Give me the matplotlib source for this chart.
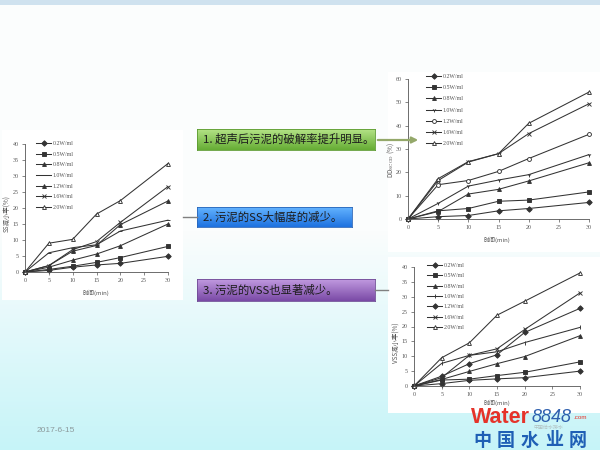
import numpy as np
import matplotlib
matplotlib.use("Agg")
import matplotlib.pyplot as plt
from matplotlib.lines import Line2D
from matplotlib.patches import Rectangle, FancyArrowPatch
from matplotlib.colors import to_rgb

plt.rcParams['font.family'] = ['Noto Sans CJK SC', 'DejaVu Sans']
plt.rcParams['mathtext.fontset'] = 'dejavuserif'

# ---------------- data ----------------
time_min = [0, 5, 10, 15, 20, 30]
power_levels = ['0.2W/ml', '0.5W/ml', '0.8W/ml', '1.0W/ml', '1.2W/ml', '1.6W/ml', '2.0W/ml']

# SS reduction rate (%)
ss_reduction = [
    [0, 0.5, 1.5, 2.2, 2.7, 4.9],
    [0, 0.8, 1.8, 3.0, 4.5, 8.0],
    [0, 1.5, 3.7, 5.6, 8.2, 15.0],
    [0, 6.0, 7.6, 8.5, 12.8, 16.2],
    [0, 2.0, 6.5, 8.3, 14.8, 22.2],
    [0, 2.0, 7.0, 9.5, 15.5, 26.7],
    [0, 9.0, 10.2, 18.1, 22.3, 33.9],
]

# SCOD disintegration degree (%)
dd_scod = [
    [0, 1.0, 1.5, 3.5, 4.5, 7.1],
    [0, 3.5, 4.5, 7.6, 8.1, 11.6],
    [0, 3.2, 10.7, 12.7, 16.3, 24.1],
    [0, 6.7, 14.1, 16.7, 19.0, 27.6],
    [0, 14.7, 16.5, 20.4, 25.9, 36.3],
    [0, 16.5, 24.4, 28.0, 36.6, 49.4],
    [0, 17.3, 24.6, 28.0, 41.0, 54.4],
]

# VSS reduction rate (%)
vss_reduction = [
    [0, 0.8, 1.9, 2.4, 2.8, 5.0],
    [0, 2.0, 2.3, 3.5, 4.6, 8.1],
    [0, 2.2, 4.9, 7.5, 9.9, 16.9],
    [0, 7.6, 10.3, 11.5, 14.6, 19.7],
    [0, 3.3, 7.5, 10.5, 18.0, 26.1],
    [0, 2.8, 10.3, 12.5, 19.0, 31.3],
    [0, 9.5, 14.5, 23.8, 28.5, 38.0],
]

box_texts = ['1. 超声后污泥的破解率提升明显。',
             '2. 污泥的SS大幅度的减少。',
             '3. 污泥的VSS也显著减少。']

# ---------------- figure ----------------
W, H = 600, 450
fig = plt.figure(figsize=(6, 4.5), dpi=100)


def rect_px(x0, y0, x1, y1):
    """figure-fraction rectangle from pixel corners (top-left origin)"""
    return [x0 / W, 1 - y1 / H, (x1 - x0) / W, (y1 - y0) / H]


# slide background: thin blue band at top, white, fading to pale cyan
top = np.array(to_rgb('#fbfdfd'))
bottom = np.array(to_rgb('#c6f4f8'))
grad = np.zeros((H, 1, 3))
for r in range(H):
    if r < 5:
        grad[r, 0] = to_rgb('#cfe2ef')
    elif r < 230:
        grad[r, 0] = top
    else:
        t = (r - 230) / (H - 230)
        grad[r, 0] = top * (1 - t) + bottom * t
bg = fig.add_axes([0, 0, 1, 1], zorder=-10)
bg.imshow(grad, aspect='auto', extent=[0, 1, 0, 1])
bg.set_axis_off()

# white panels behind the three charts
for (x0, y0, x1, y1) in [(2, 130, 183, 300), (388, 72, 600, 252), (388, 257, 600, 413)]:
    fig.add_artist(Rectangle((x0 / W, 1 - y1 / H), (x1 - x0) / W, (y1 - y0) / H,
                             transform=fig.transFigure, facecolor='white',
                             edgecolor='none', zorder=-5))

small_font = ['Liberation Serif', 'Noto Sans CJK SC']
ink = '#333333'


def draw_chart(rect, series, ymax, ystep, markers, filled, ylabel, ylabel_xy,
               xlabel_xy, legend_xy, label_spacing):
    ax = fig.add_axes(rect)
    ax.patch.set_alpha(0)
    for vals, lab, m, f in zip(series, power_levels, markers, filled):
        ax.plot(time_min, vals, color=ink, lw=0.75, marker=m, ms=2.8,
                mfc=ink if f else 'white', mec=ink, mew=0.65,
                clip_on=False, label=lab)
    ax.set_xlim(0, 30)
    ax.set_ylim(0, ymax)
    ax.set_xticks(np.arange(0, 31, 5))
    ax.set_yticks(np.arange(0, ymax + 0.1, ystep))
    for s in ('top', 'right'):
        ax.spines[s].set_visible(False)
    for s in ('left', 'bottom'):
        ax.spines[s].set_color('#555555')
        ax.spines[s].set_linewidth(0.6)
    ax.tick_params(direction='out', length=2, width=0.5, colors='#555555',
                   labelsize=4.3, pad=2.5)
    for t in ax.get_xticklabels() + ax.get_yticklabels():
        t.set_family(small_font)
        t.set_color('#555555')
    fig.text(ylabel_xy[0] / W, 1 - ylabel_xy[1] / H, ylabel, rotation=90,
             fontsize=4.6, color='#555555', ha='center', va='center')
    fig.text(xlabel_xy[0] / W, 1 - xlabel_xy[1] / H, '时间(min)',
             fontsize=4.3, color='#555555', ha='center', va='center')
    leg = ax.legend(loc='upper left',
                    bbox_to_anchor=(legend_xy[0] / W, 1 - legend_xy[1] / H),
                    bbox_transform=fig.transFigure, frameon=False,
                    prop={'family': small_font, 'size': 4.2},
                    handlelength=2.6, handletextpad=0.3,
                    labelspacing=label_spacing, borderpad=0, borderaxespad=0)
    for t in leg.get_texts():
        t.set_color('#555555')
    return ax


# left: SS reduction
draw_chart(rect_px(25, 144, 168, 272), ss_reduction, 40, 5,
           ['D', 's', '^', '_', '^', 'x', '^'],
           [True, True, True, True, True, True, False],
           'SS减小率(%)', (7, 213), (96, 293), (36, 141), 0.95)

# top right: SCOD disintegration degree
draw_chart(rect_px(408, 79, 589, 219), dd_scod, 60, 10,
           ['D', 's', '^', '1', 'o', 'x', '^'],
           [True, True, True, True, False, True, False],
           'DD$_{\\rm SCOD}$ (%)', (391, 160), (497, 240), (426, 74), 1.05)

# bottom right: VSS reduction
draw_chart(rect_px(414, 267, 580, 386), vss_reduction, 40, 5,
           ['D', 's', '^', '|', 'D', 'x', '^'],
           [True, True, True, True, True, True, False],
           'VSS减小率(%)', (397, 343), (497, 403), (427, 263), 0.9)

# ---------------- gradient text boxes ----------------
box_specs = [
    ((197, 129, 375, 150), '#b4e386', '#66ad35', '#5b9a30'),
    ((197, 207, 352, 227), '#63b3ff', '#1e72e0', '#2a66b8'),
    ((197, 279, 375, 301), '#c19ae0', '#7a4aa6', '#6f4a95'),
]
for (x0, y0, x1, y1), c_top, c_bot, c_edge in box_specs:
    bax = fig.add_axes(rect_px(x0, y0, x1, y1))
    n = 40
    g = np.zeros((n, 1, 3))
    ct, cb = np.array(to_rgb(c_top)), np.array(to_rgb(c_bot))
    for i in range(n):
        t = i / (n - 1)
        g[i, 0] = ct * (1 - t) + cb * t
    bax.imshow(g, aspect='auto', extent=[0, 1, 0, 1])
    bax.set_xticks([])
    bax.set_yticks([])
    for s in bax.spines.values():
        s.set_color(c_edge)
        s.set_linewidth(0.6)

for (x0, y0, x1, y1), txt in zip([b[0] for b in box_specs], box_texts):
    fig.text((x0 + 6) / W, 1 - (y0 + y1) / 2 / H, txt, fontsize=8.2,
             color='#1c1c1c', ha='left', va='center')

# connectors between boxes and charts
fig.add_artist(FancyArrowPatch((375 / W, 1 - 140 / H), (421 / W, 1 - 140 / H),
                               transform=fig.transFigure, arrowstyle='-|>',
                               mutation_scale=9, color='#94a86a', lw=1.6))
fig.add_artist(Line2D([183 / W, 197 / W], [1 - 217 / H, 1 - 217 / H],
                      transform=fig.transFigure, color='#808080', lw=1.0))
fig.add_artist(Line2D([375 / W, 388 / W], [1 - 290 / H, 1 - 290 / H],
                      transform=fig.transFigure, color='#808080', lw=1.0))

# footer date
fig.text(37 / W, 1 - 430 / H, '2017-6-15', fontsize=6, color='#8c9a9c',
         family=['Liberation Sans', 'DejaVu Sans'], ha='left', va='center')

# site watermark
fig.text(471 / W, 1 - 423 / H, 'Water', fontsize=15.5, color='#e5332a',
         fontweight='bold', family=['Liberation Sans', 'DejaVu Sans'],
         ha='left', va='baseline')
fig.text(532 / W, 1 - 422 / H, '8848', fontsize=13, color='#2d5fae',
         style='italic', family=['Liberation Sans', 'DejaVu Sans'],
         ha='left', va='baseline')
fig.text(573 / W, 1 - 419 / H, '.com', fontsize=4.5, color='#e5332a',
         family=['Liberation Sans', 'DejaVu Sans'], ha='left', va='baseline')
fig.text(548 / W, 1 - 427 / H, '中国给水排水', fontsize=3.6, color='#aab2b2',
         alpha=0.8, ha='center', va='center')
for i, ch in enumerate('中国水业网'):
    fig.text((482 + i * 24) / W, 1 - 440 / H, ch, fontsize=13, color='#1f5fb5',
             fontweight='bold', ha='center', va='center')

fig.savefig('out.png', dpi=100)
